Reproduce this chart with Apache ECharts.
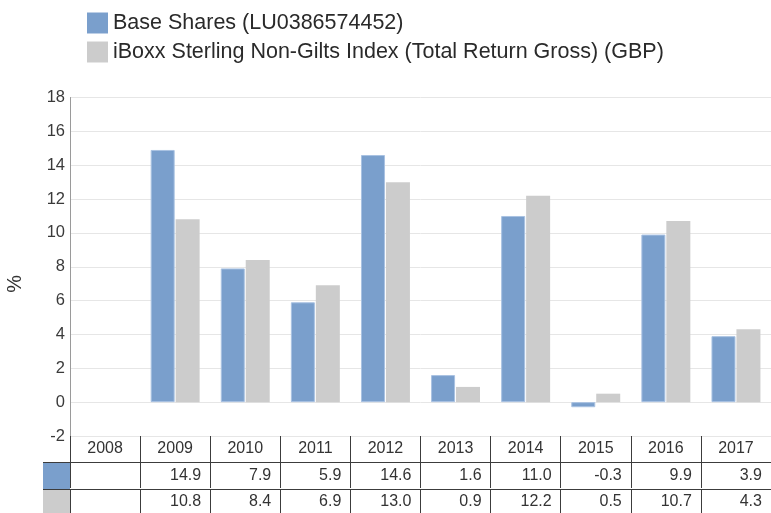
<!DOCTYPE html>
<html>
<head>
<meta charset="utf-8">
<script src="https://cdn.jsdelivr.net/npm/echarts@6/dist/echarts.min.js"></script>
<style>
html,body{margin:0;padding:0;background:#fff;}
#chart{width:771px;height:513px;}
</style>
</head>
<body>
<div id="chart"></div>
<script>
var years = ['2008','2009','2010','2011','2012','2013','2014','2015','2016','2017'];
var baseName = 'Base Shares (LU0386574452)';
var indexName = 'iBoxx Sterling Non-Gilts Index (Total Return Gross) (GBP)';
var baseValues = [null, 14.9, 7.9, 5.9, 14.6, 1.6, 11.0, -0.3, 9.9, 3.9];
var indexValues = [null, 10.8, 8.4, 6.9, 13.0, 0.9, 12.2, 0.5, 10.7, 4.3];
var yTicks = {min: -2, max: 18, interval: 2};

var BLUE = '#7a9fcc';
var GRAY = '#cccccc';
var FONT = '"Liberation Sans", Arial, sans-serif';
var LINE = '#3c3c3c';

function fmt(v){ return (v === null || v === undefined) ? '' : Number(v).toFixed(1); }

var chart = echarts.init(document.getElementById('chart'), null, {renderer: 'canvas'});

function tableAxis(offset, margin, formatter, rich) {
  return {
    type: 'category',
    data: years,
    gridIndex: 0,
    position: 'bottom',
    offset: offset,
    axisLine: {show: offset > 0, onZero: false, lineStyle: {color: LINE, width: 1}},
    axisTick: {show: true, interval: 0, length: offset === 53 ? 30 : 26, lineStyle: {color: LINE, width: 1}},
    axisLabel: {
      show: true, interval: 0, margin: margin,
      color: '#333', fontFamily: FONT, fontSize: 16, lineHeight: 16,
      formatter: formatter,
      rich: rich
    },
    splitLine: {show: false}
  };
}

var rightRich = {r: {width: 52, align: 'right', fontFamily: FONT, fontSize: 16, lineHeight: 16, color: '#333'}};

var option = {
  animation: false,
  backgroundColor: '#ffffff',
  textStyle: {fontFamily: FONT},
  legend: {
    orient: 'vertical',
    left: 87, top: 12, padding: 0,
    itemWidth: 21, itemHeight: 21, itemGap: 7,
    icon: 'rect',
    itemStyle: {borderWidth: 0},
    textStyle: {fontFamily: FONT, fontSize: 21.5, color: '#2a2a2a'},
    data: [baseName, indexName]
  },
  grid: {left: 70, right: 0, top: 97.5, bottom: 77, containLabel: false},
  xAxis: [
    tableAxis(0, 5, function(v, i){ return years[i]; }),
    tableAxis(26, 6, function(v, i){ return '{r|' + fmt(baseValues[i]) + '}'; }, rightRich),
    tableAxis(53, 5, function(v, i){ return '{r|' + fmt(indexValues[i]) + '}'; }, rightRich)
  ],
  yAxis: {
    type: 'value',
    min: yTicks.min, max: yTicks.max, interval: yTicks.interval,
    axisLine: {show: true, lineStyle: {color: '#9a9a9a', width: 1}},
    axisTick: {show: false},
    axisLabel: {color: '#3a3a3a', fontFamily: FONT, fontSize: 16.5, margin: 5},
    splitLine: {show: true, lineStyle: {color: '#e6e6e6', width: 1}}
  },
  series: [
    {
      name: baseName, type: 'bar', xAxisIndex: 0,
      data: baseValues,
      barWidth: 24, barGap: '4%',
      itemStyle: {color: BLUE, borderColor: '#a9c2e2', borderWidth: 1}
    },
    {
      name: indexName, type: 'bar', xAxisIndex: 0,
      data: indexValues,
      barWidth: 24, barGap: '4%',
      itemStyle: {color: GRAY}
    }
  ],
  graphic: [
    {type: 'text', left: 5, top: 275, rotation: Math.PI / 2, originX: 0, originY: 0,
     style: {text: '%', fontFamily: FONT, fontSize: 20, fill: '#333'}},
    {type: 'rect', shape: {x: 43, y: 462, width: 27, height: 27}, style: {fill: BLUE}},
    {type: 'rect', shape: {x: 43, y: 489, width: 27, height: 30}, style: {fill: GRAY}},
    {type: 'line', shape: {x1: 43, y1: 462.5, x2: 70, y2: 462.5}, style: {stroke: LINE, lineWidth: 1}},
    {type: 'line', shape: {x1: 43, y1: 489.5, x2: 70, y2: 489.5}, style: {stroke: LINE, lineWidth: 1}}
  ]
};
chart.setOption(option);
</script>
</body>
</html>
